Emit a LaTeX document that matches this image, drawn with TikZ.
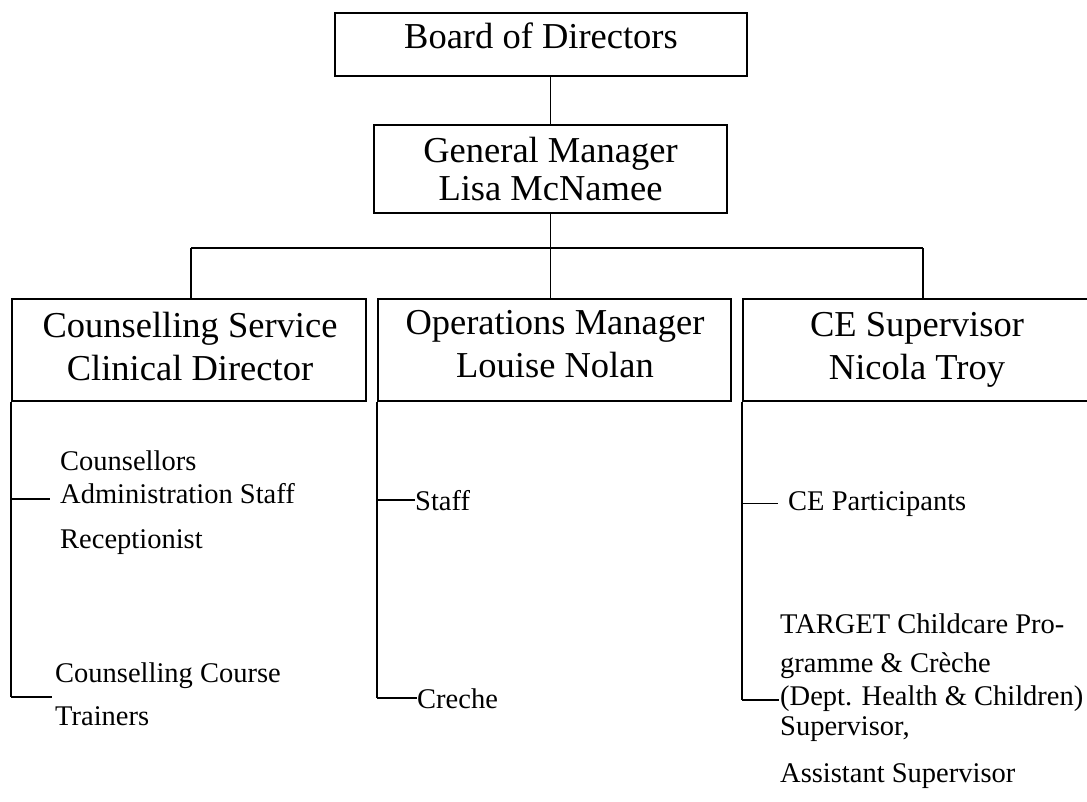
\documentclass[tikz,border=0pt]{standalone}
\usepackage{fontspec}
\setmainfont{Liberation Serif}
\begin{document}
\begin{tikzpicture}[x=1pt,y=-1pt,
  box/.style={draw, line width=1.6pt, inner sep=0pt},
  bigA/.style={inner sep=0pt, align=center, font=\fontsize{36.5}{38}\selectfont},
  bigB/.style={inner sep=0pt, align=center, font=\fontsize{36.5}{43}\selectfont},
  small/.style={inner sep=0pt, align=left, font=\fontsize{28.5}{33}\selectfont},
  conn/.style={line width=1.6pt}]
\useasboundingbox (0,0) rectangle (1087,801);
\clip (0,0) rectangle (1087,801);
% boxes
\node[box, minimum width=412pt, minimum height=63pt] (board) at (541,44.5) {};
\node[box, minimum width=353pt, minimum height=88pt] (gm) at (550.5,169) {};
\node[box, minimum width=354pt, minimum height=102pt] (cs) at (189,350) {};
\node[box, minimum width=353pt, minimum height=102pt] (ops) at (554.5,350) {};
\node[box, minimum width=350pt, minimum height=102pt] (ce) at (918,350) {};
% box texts
\node[bigA, anchor=base] (boardT) at (541,48) {Board of Directors};
\node[bigA, anchor=north] (gmT) at (550.5,137) {General Manager\\Lisa McNamee};
\node[bigB, anchor=north] (csT) at (190,312) {Counselling Service\\Clinical Director};
\node[bigB, anchor=north] (opsT) at (555,310.5) {Operations Manager\\Louise Nolan};
\node[bigB, anchor=north] (ceT) at (917,312) {CE Supervisor\\Nicola Troy};
% connectors top
\coordinate (barL) at (191,248);
\coordinate (barM) at (550.5,248);
\coordinate (barR) at (923,248);
\draw[conn] (gm.north) -- (gm.north |- board.south);
\draw[conn] (gm.south) -- (barM);
\draw[conn] (barL) -- (barR);
\draw[conn] (barL) -- (barL |- cs.north);
\draw[conn] (barM) -- (barM |- ops.north);
\draw[conn] (barR) -- (barR |- ce.north);
% sub-items counselling
\node[small, anchor=north west] (csA) at (60,450.5) {Counsellors\\Administration Staff\\[12pt]Receptionist};
\node[small, anchor=north west] (csB) at (55,662.5) {Counselling Course\\[10pt]Trainers};
\coordinate (tk1) at (50,499);
\coordinate (tk2) at (52,697);
\draw[conn] (cs.south west) -- (cs.south west |- tk2);
\draw[conn] (tk1 -| cs.south west) -- (tk1);
\draw[conn] (tk2 -| cs.south west) -- (tk2);
% sub-items operations
\node[small, anchor=base west] (staff) at (415,510) {Staff};
\node[small, anchor=base west] (creche) at (417,708) {Creche};
\draw[conn] (ops.south west) -- (ops.south west |- creche.west);
\draw[conn] (ops.south west |- staff.west) -- (staff.west);
\draw[conn] (ops.south west |- creche.west) -- (creche.west);
% sub-items CE
\node[small, anchor=base west] (cep) at (788,510) {CE Participants};
\node[small, anchor=north west] (tgt) at (780,613.5) {TARGET Childcare Pro-\\[6pt]gramme \& Crèche\\(Dept. Health \& Children)\\[-3pt]Supervisor,\\[14pt]Assistant Supervisor};
\coordinate (tk3) at (779,700);
\draw[conn] (ce.south west) -- (ce.south west |- tk3);
\draw[conn] (ce.south west |- cep.west) -- ([xshift=-10pt]cep.west);
\draw[conn] (tk3 -| ce.south west) -- (tk3);
\end{tikzpicture}
\end{document}
